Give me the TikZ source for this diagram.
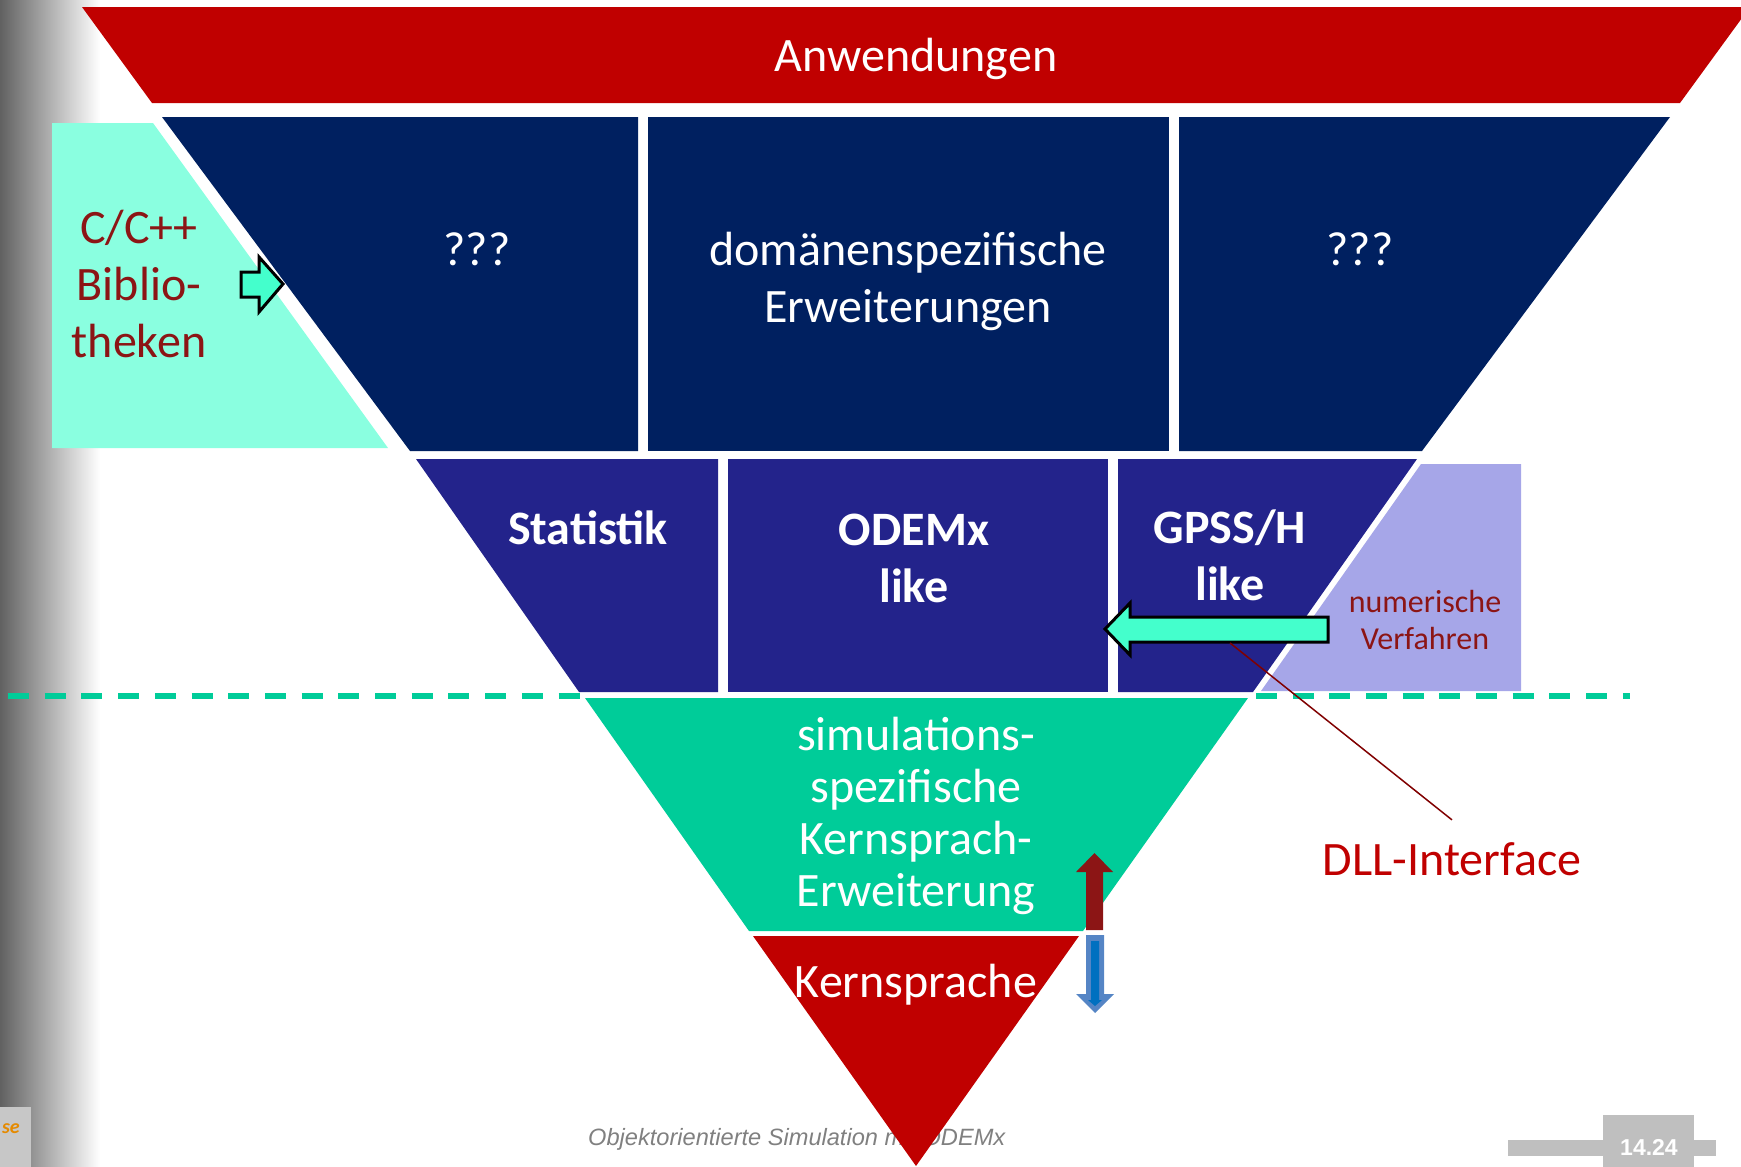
\documentclass[tikz,border=0pt]{standalone}
\usepackage{fontspec}
\setmainfont{Carlito}
\newfontfamily\footfont{Liberation Sans}
\usetikzlibrary{positioning}

\definecolor{bandred}{HTML}{C00000}
\definecolor{navyblue}{HTML}{002060}
\definecolor{indigoblue}{HTML}{23238B}
\definecolor{aqualight}{HTML}{8AFFE0}
\definecolor{aquaarrow}{HTML}{44FFCC}
\definecolor{lilac}{HTML}{A6A6E8}
\definecolor{simgreen}{HTML}{00CC99}
\definecolor{textred}{HTML}{8C1515}
\definecolor{linered}{HTML}{800000}
\definecolor{steelblue}{HTML}{5585C5}
\definecolor{deepblue}{HTML}{0070C0}
\definecolor{footgray}{HTML}{808080}
\definecolor{boxgray}{HTML}{BFBFBF}

\begin{document}
\begin{tikzpicture}[x=1pt, y=-1pt,
  big/.style={font=\fontsize{48}{57}\selectfont, align=center, inner sep=0pt, anchor=base},
  bigbold/.style={big, font=\fontsize{48}{57}\selectfont\bfseries, text=white},
  smalltext/.style={font=\fontsize{32}{37}\selectfont, align=center, inner sep=0pt, anchor=base},
  border/.style={simgreen, line width=6pt, dash pattern=on 21pt off 15.7pt}]

\useasboundingbox (0,0) rectangle (1741,1167);
\clip (0,0) rectangle (1741,1167);

% slide background
\shade[left color=black!62, middle color=black!22, right color=white] (0,0) rectangle (100,1167);
\fill[black!22] (0,1107) rectangle (31,1167);
\node[font=\fontsize{20}{20}\selectfont\bfseries\itshape, text=orange!80!yellow!90!black, anchor=base east, inner sep=0pt] (logo) at (20,1133) {se};

\draw[border] (8,696) -- (582,696);
\draw[border, dash phase=30.9pt] (1250,696) -- (1630,696);

% layers of the funnel
\fill[bandred] (82,7) -- (1750,7) -- (1680,103) -- (152,103) -- cycle;

\fill[aqualight] (52,123) -- (153,123) -- (388,448) -- (52,448) -- cycle;
\fill[navyblue] (162,117) -- (638,117) -- (638,451) -- (410,451) -- cycle;
\fill[navyblue] (648,117) rectangle (1169,451);
\fill[navyblue] (1179,117) -- (1670,117) -- (1422,451) -- (1179,451) -- cycle;

\fill[lilac] (1421,464) -- (1521,464) -- (1521,691) -- (1261,691) -- cycle;
\fill[indigoblue] (416,459) -- (718,459) -- (718,692) -- (579,692) -- cycle;
\fill[indigoblue] (728,459) rectangle (1108,692);
\fill[indigoblue] (1118,459) -- (1417,459) -- (1253,692) -- (1118,692) -- cycle;

\fill[simgreen] (585,698) -- (1248,698) -- (1083,931) -- (749,931) -- cycle;

\node[font=\footfont\fontsize{23.6}{24}\selectfont\itshape, text=footgray, anchor=base west, inner sep=0pt] (foot) at (588,1145) {Objektorientierte Simulation mit ODEMx};
\fill[bandred] (753,936) -- (1079,936) -- (916,1166) -- cycle;

% labels (base = last line)
\node[big, text=white] (apps) at (916,71) {Anwendungen};
\node[big, text=white] (qleft) at (477,265) {???};
\node[big, text=white] (domain) at (908,322) {domänenspezifische\\Erweiterungen};
\node[big, text=white] (qright) at (1360,265) {???};
\node[big, text=textred] (clib) at (139,357) {C/C++\\Biblio-\\theken};
\node[bigbold] (stat) at (588,544) {Statistik};
\node[bigbold] (odemx) at (914,602) {ODEMx\\like};
\node[bigbold] (gpss) at (1230,600) {GPSS/H\\like};
\node[smalltext, text=textred] (numeric) at (1425,649) {numerische\\Verfahren};
\node[big, font=\fontsize{48}{52}\selectfont, text=white] (simext) at (916,906) {simulations-\\spezifische\\Kernsprach-\\Erweiterung};
\node[big, text=white] (core) at (916,997) {Kernsprache};
\node[big, text=bandred] (dll) at (1452,875) {DLL-Interface};

% block arrows
\draw[line width=3pt, fill=aquaarrow, line join=miter] (241,272) -- (259,272) -- (259,257) -- (283,284) -- (259,312) -- (259,297) -- (241,297) -- cycle;
\draw[line width=3pt, fill=aquaarrow, line join=miter] (1328,617) -- (1130,617) -- (1130,603) -- (1105,629) -- (1130,655) -- (1130,642) -- (1328,642) -- cycle;

\coordinate (dllfoot) at (1230,643);
\draw[linered, line width=1.5pt] (dllfoot) -- ([yshift=22pt]dll.north);

\fill[textred] (1086,930) -- (1086,872) -- (1076,872) -- (1094.5,853) -- (1113,872) -- (1103,872) -- (1103,930) -- cycle;
\fill[steelblue] (1086,935) -- (1104,935) -- (1104,994) -- (1114,994) -- (1095,1013) -- (1076,994) -- (1086,994) -- cycle;
\fill[deepblue] (1091,941) -- (1099,941) -- (1099,1000) -- (1102,1000) -- (1095,1006) -- (1088,1000) -- (1091,1000) -- cycle;

% page number
\fill[boxgray] (1508,1140) rectangle (1716,1156);
\fill[boxgray] (1603,1115) rectangle (1694,1167);
\node[font=\footfont\fontsize{23}{23}\selectfont\bfseries, text=white, anchor=base, inner sep=0pt] (page) at (1649,1155) {14.24};

\end{tikzpicture}
\end{document}
